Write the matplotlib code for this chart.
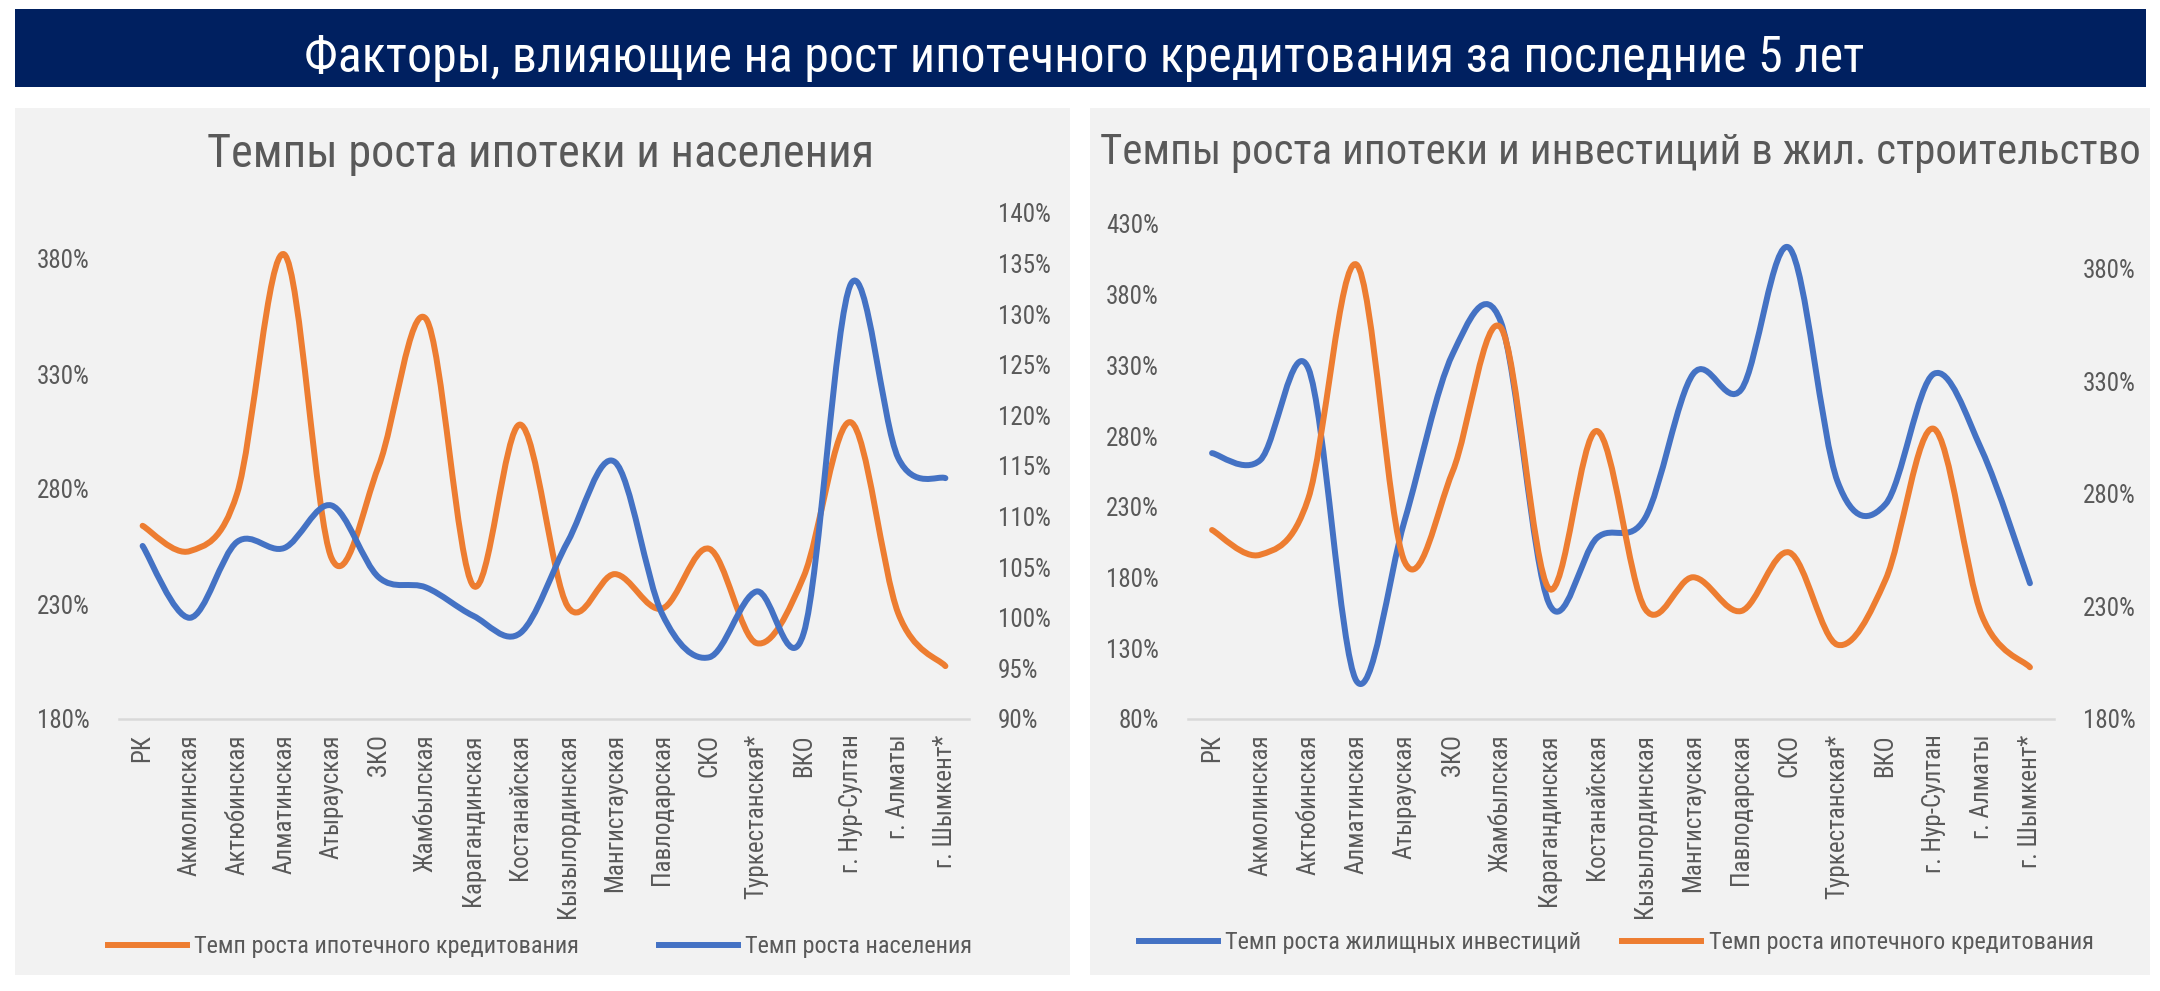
import matplotlib
matplotlib.use("Agg")
import matplotlib.pyplot as plt
from matplotlib.path import Path
from matplotlib.patches import PathPatch, Rectangle
from matplotlib.lines import Line2D

plt.rcParams['font.family'] = ['Roboto Condensed', 'Fira Sans Extra Condensed', 'DejaVu Sans']

# данные
regions = ["РК", "Акмолинская", "Актюбинская", "Алматинская", "Атырауская", "ЗКО",
           "Жамбылская", "Карагандинская", "Костанайская", "Кызылординская",
           "Мангистауская", "Павлодарская", "СКО", "Туркестанская*", "ВКО",
           "г. Нур-Султан", "г. Алматы", "г. Шымкент*"]
mortgage_growth = [264, 253, 278, 382, 250, 290, 354, 238, 308, 229, 243, 228, 254, 213, 242, 309, 226, 203]
population_growth = [107.1, 100.0, 107.5, 106.9, 111.1, 104.0, 103.0, 100.2, 98.5, 107.5,
                     115.4, 100.4, 96.1, 102.6, 98.5, 133.0, 115.8, 113.8]
housing_invest_growth = [268, 263, 328, 107, 220, 338, 361, 162, 208, 222, 324, 313, 413, 248, 232, 324, 270, 176]

ORANGE = "#ED7D31"
BLUE = "#4472C4"
GREY = "#595959"
LW = 4.3

W, H = 2160, 991


def fx(px):
    return px / W


def fy(py):
    return (H - py) / H


def smooth_line(ax, xs, ys, color):
    # сглаженная линия как в Excel (кривые Безье)
    n = len(xs)
    verts = [(xs[0], ys[0])]
    codes = [Path.MOVETO]
    for i in range(n - 1):
        a = i - 1 if i > 0 else i
        d = i + 2 if i + 2 < n else i + 1
        c1 = (xs[i] + (xs[i + 1] - xs[a]) / 6, ys[i] + (ys[i + 1] - ys[a]) / 6)
        c2 = (xs[i + 1] - (xs[d] - xs[i]) / 6, ys[i + 1] - (ys[d] - ys[i]) / 6)
        verts += [c1, c2, (xs[i + 1], ys[i + 1])]
        codes += [Path.CURVE4] * 3
    ax.add_patch(PathPatch(Path(verts, codes), fill=False, edgecolor=color, lw=LW,
                           capstyle="round", joinstyle="round"))


def style_axis(ax, ylim, ticks):
    ax.set_ylim(*ylim)
    ax.set_yticks(ticks)
    ax.set_yticklabels([f"{t:g}%" for t in ticks])
    ax.patch.set_visible(False)
    for s in ["top", "left", "right", "bottom"]:
        ax.spines[s].set_visible(False)
    ax.tick_params(axis="y", length=0, pad=21, labelsize=18, labelcolor=GREY)


fig = plt.figure(figsize=(W / 100, H / 100), dpi=100)
fig.patch.set_facecolor("white")


def fit_text(t, width_px):
    # подгоняем размер шрифта под ширину
    r = fig.canvas.get_renderer()
    w = t.get_window_extent(r).width
    t.set_fontsize(t.get_fontsize() * width_px / w)


# заголовок
fig.patches.append(Rectangle((fx(15), fy(87)), fx(2146) - fx(15), fy(9) - fy(87),
                             transform=fig.transFigure, facecolor="#002060", edgecolor="none",
                             zorder=-5))
t0 = fig.text(fx(1084), fy(72), "Факторы, влияющие на рост ипотечного кредитования за последние 5 лет",
              color="white", fontsize=40, ha="center", va="baseline")
fit_text(t0, 1558)

# фон панелей
for x0, x1 in [(15, 1070), (1090, 2150)]:
    fig.patches.append(Rectangle((fx(x0), fy(975)), fx(x1) - fx(x0), fy(108) - fy(975),
                                 transform=fig.transFigure, facecolor="#F2F2F2", edgecolor="none",
                                 zorder=-5))

xs = list(range(len(regions)))


def base_axes(rect):
    ax = fig.add_axes(rect)
    ax.set_xlim(-0.5, len(regions) - 0.5)
    ax.set_xticks(xs)
    ax.set_xticklabels(regions, rotation=90, fontsize=18, color=GREY)
    ax.tick_params(axis="x", length=0, pad=11)
    return ax


def bottom_line(ax):
    ax.spines["bottom"].set_visible(True)
    ax.spines["bottom"].set_color("#D9D9D9")
    ax.spines["bottom"].set_linewidth(1.8)


# левый график
ax1 = base_axes([fx(119), fy(719), fx(969) - fx(119), fy(213) - fy(719)])
style_axis(ax1, (180, 400), [180, 230, 280, 330, 380])
bottom_line(ax1)
ax1b = ax1.twinx()
style_axis(ax1b, (90, 140), [90, 95, 100, 105, 110, 115, 120, 125, 130, 135, 140])
smooth_line(ax1, xs, mortgage_growth, ORANGE)
smooth_line(ax1b, xs, population_growth, BLUE)
t1 = fig.text(fx(541), fy(167), "Темпы роста ипотеки и населения", fontsize=35, color=GREY,
              ha="center", va="baseline")
fit_text(t1, 667)
fig.legend([Line2D([], [], color=ORANGE, lw=LW), Line2D([], [], color=BLUE, lw=LW)],
           ["Темп роста ипотечного кредитования", "Темп роста населения"],
           loc="center", bbox_to_anchor=(fx(540), fy(947)), ncol=2, frameon=False,
           fontsize=17.5, labelcolor=GREY, handlelength=3.25, handletextpad=0.3, columnspacing=3.3)

# правый график
ax2 = base_axes([fx(1188), fy(719), fx(2054) - fx(1188), fy(224) - fy(719)])
style_axis(ax2, (80, 430), [80, 130, 180, 230, 280, 330, 380, 430])
bottom_line(ax2)
ax2b = ax2.twinx()
style_axis(ax2b, (180, 400), [180, 230, 280, 330, 380])
smooth_line(ax2, xs, housing_invest_growth, BLUE)
smooth_line(ax2b, xs, mortgage_growth, ORANGE)
t2 = fig.text(fx(1620), fy(164), "Темпы роста ипотеки и инвестиций в жил. строительство", fontsize=35,
              color=GREY, ha="center", va="baseline")
fit_text(t2, 1039)
fig.legend([Line2D([], [], color=BLUE, lw=LW), Line2D([], [], color=ORANGE, lw=LW)],
           ["Темп роста жилищных инвестиций", "Темп роста ипотечного кредитования"],
           loc="center", bbox_to_anchor=(fx(1616), fy(943)), ncol=2, frameon=False,
           fontsize=17.5, labelcolor=GREY, handlelength=3.25, handletextpad=0.3, columnspacing=1.7)

fig.savefig("out.png", dpi=100)
